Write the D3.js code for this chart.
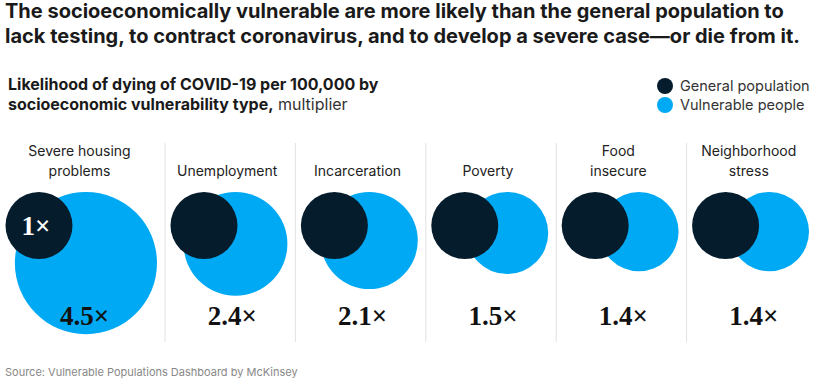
<!DOCTYPE html>
<meta charset="utf-8">
<style>
body { margin: 0; background: #fff; }
text { font-family: Inter, "Liberation Sans", sans-serif; }
.title { font-size: 20px; font-weight: 700; fill: #1a1a1a; }
.subtitle { font-size: 16px; font-weight: 700; fill: #1a1a1a; }
.subtitle .light { font-weight: 400; fill: #333; }
.legend text { font-size: 14.5px; fill: #333; }
.cat { font-size: 14px; fill: #222; text-anchor: middle; }
.val { font-family: "Liberation Serif", "DejaVu Serif", serif; font-size: 27px; font-weight: 700; fill: #111; text-anchor: middle; }
.source { font-size: 11px; fill: #888; }
</style>
<body>
<script src="https://cdn.jsdelivr.net/npm/d3@7"></script>
<script>

// data
var categories = ["Severe housing problems", "Unemployment", "Incarceration", "Poverty", "Food insecure", "Neighborhood stress"];
var labelLines = [["Severe housing", "problems"], ["Unemployment"], ["Incarceration"], ["Poverty"], ["Food", "insecure"], ["Neighborhood", "stress"]];
var vulnerable = [4.5, 2.4, 2.1, 1.5, 1.4, 1.4];
var general = 1;
var seriesNames = ["General population", "Vulnerable people"];

var width = 815, height = 381;
var dark = "#051c2c", blue = "#00a9f4";

var svg = d3.select("body").append("svg")
    .attr("width", width)
    .attr("height", height);

// title
var title = svg.append("text").attr("class", "title");
title.append("tspan").attr("x", 5).attr("y", 18)
    .text("The socioeconomically vulnerable are more likely than the general population to");
title.append("tspan").attr("x", 5).attr("y", 43)
    .text("lack testing, to contract coronavirus, and to develop a severe case\u2014or die from it.");

// subtitle
var sub = svg.append("text").attr("class", "subtitle");
sub.append("tspan").attr("x", 8).attr("y", 90)
    .text("Likelihood of dying of COVID-19 per 100,000 by");
var l2 = sub.append("tspan").attr("x", 8).attr("y", 110);
l2.append("tspan").text("socioeconomic vulnerability type,");
l2.append("tspan").attr("class", "light").text(" multiplier");

// legend
var legend = svg.append("g").attr("class", "legend")
  .selectAll("g").data(seriesNames).enter().append("g")
    .attr("transform", function(d, i) { return "translate(665," + (86 + i * 19) + ")"; });
legend.append("circle").attr("r", 8).attr("fill", function(d, i) { return i ? blue : dark; });
legend.append("text").attr("x", 15).attr("y", 5).text(function(d) { return d; });

// panels: first one is wider, the rest share the remaining space
var firstW = 165;
var band = d3.scaleBand().domain(categories.slice(1)).range([firstW, 817]);
function left(i) { return i === 0 ? 0 : band(categories[i]); }
function pw(i) { return i === 0 ? firstW : band.bandwidth(); }

// circle area proportional to multiplier
var r = d3.scaleSqrt().domain([0, 1]).range([0, 33.5]);
var circleTop = 192;

var panel = svg.selectAll(".panel").data(categories).enter().append("g")
    .attr("class", "panel")
    .attr("transform", function(d, i) { return "translate(" + left(i) + ",0)"; });

// dividers
panel.filter(function(d, i) { return i > 0; }).append("line")
    .attr("x1", 0).attr("x2", 0).attr("y1", 143).attr("y2", 342)
    .attr("stroke", "#e2e2e2").attr("stroke-width", 1);

// category labels (bottom aligned)
panel.append("text").attr("class", "cat")
  .each(function(d, i) {
    var t = d3.select(this), lines = labelLines[i];
    lines.forEach(function(s, j) {
      t.append("tspan").attr("x", pw(i) / 2 - 3)
        .attr("y", 176 - (lines.length - 1 - j) * 20).text(s);
    });
  });

// vulnerable circle
panel.append("circle")
    .attr("cx", function(d, i) { return pw(i) - 8 - r(vulnerable[i]); })
    .attr("cy", function(d, i) { return circleTop + r(vulnerable[i]); })
    .attr("r", function(d, i) { return r(vulnerable[i]); })
    .attr("fill", blue);

// general population circle
panel.append("circle")
    .attr("cx", 39)
    .attr("cy", circleTop + r(general))
    .attr("r", r(general))
    .attr("fill", dark);

// multiplier labels
panel.append("text").attr("class", "val")
    .attr("x", function(d, i) { return pw(i) / 2 + 2; })
    .attr("y", 325)
    .text(function(d, i) { return vulnerable[i] + "\u00d7"; });

panel.filter(function(d, i) { return i === 0; }).append("text")
    .attr("class", "val")
    .attr("x", 36).attr("y", circleTop + r(general) + 9)
    .style("fill", "#fff")
    .text(general + "\u00d7");

// source
svg.append("text").attr("class", "source").attr("x", 5).attr("y", 376)
    .text("Source: Vulnerable Populations Dashboard by McKinsey");

</script>
</body>
